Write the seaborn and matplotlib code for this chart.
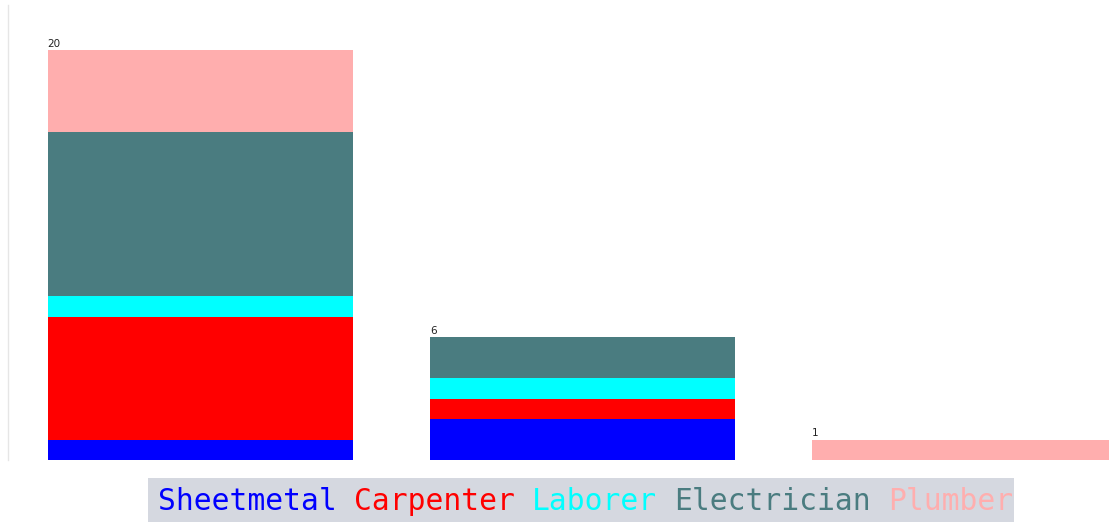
import matplotlib
matplotlib.use("Agg")
import matplotlib.pyplot as plt
import seaborn as sns
import numpy as np
import pandas as pd
from matplotlib.patches import Rectangle

categories = ["A", "B", "C"]
trades = ["Sheetmetal", "Carpenter", "Laborer", "Electrician", "Plumber"]
sheetmetal = [1, 2, 0]
carpenter = [6, 1, 0]
laborer = [1, 1, 0]
electrician = [8, 2, 0]
plumber = [4, 0, 1]
colors = ["#0000FF", "#FF0000", "#00FFFF", "#4A7C80", "#FFAEAE"]

series = [sheetmetal, carpenter, laborer, electrician, plumber]

sns.set_style("white")
W, H = 1109, 522
fig = plt.figure(figsize=(W / 100, H / 100), dpi=100)
ax = fig.add_axes([8 / W, (H - 460) / H, (W - 8) / W, (460 - 5) / H])

bottom = np.zeros(len(categories))
for name, vals, col in zip(trades, series, colors):
    df = pd.DataFrame({"cat": categories, "val": vals})
    sns.barplot(data=df, x="cat", y="val", color=col, saturation=1, width=0.8,
                bottom=bottom.copy(), ax=ax, linewidth=0, errorbar=None)
    bottom += np.array(vals)

for i, tot in enumerate(bottom):
    ax.text(i - 0.4, tot + 0.05, f"{int(tot)}", ha="left", va="bottom",
            fontsize=7.5, color="#222222")

ax.set_xlim(-0.504, 2.378)
ax.set_ylim(0, 22.2)
ax.set_xlabel("")
ax.set_ylabel("")
ax.set_xticks([])
ax.set_yticks([])
for s in ["top", "right", "bottom"]:
    ax.spines[s].set_visible(False)
ax.spines["left"].set_color("#e6e6e6")
ax.spines["left"].set_linewidth(1)

# legend box
fig.patches.append(Rectangle((148 / W, 0), (1014 - 148) / W, (H - 478) / H,
                             transform=fig.transFigure, facecolor="#D5D8E0",
                             edgecolor="none", zorder=0))
char_w = 17.8
x0 = 158
pos = 0
for name, col in zip(trades, colors):
    fig.text((x0 + pos * char_w) / W, (H - 510) / H, name, color=col,
             family="DejaVu Sans Mono", fontsize=21.3, va="baseline", ha="left")
    pos += len(name) + 1

fig.savefig("out.png", dpi=100)
